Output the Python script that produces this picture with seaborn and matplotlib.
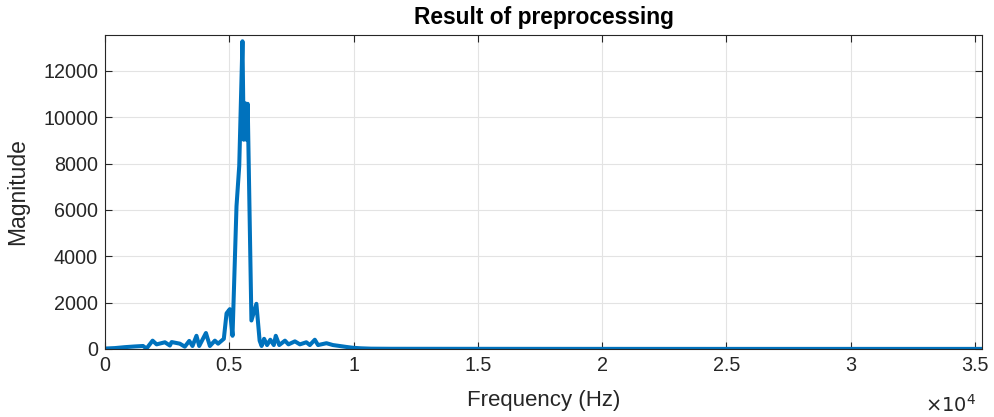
import matplotlib
matplotlib.use("Agg")
import matplotlib.pyplot as plt
import seaborn as sns
import pandas as pd

# Spectrum magnitude after preprocessing (frequency in Hz)
freq_hz = [0, 400, 800, 1200, 1530, 1670, 1915, 2075, 2410, 2610, 2680, 3010, 3210,
           3390, 3520, 3680, 3790, 4060, 4220, 4420, 4550, 4780, 4890, 5020, 5130,
           5290, 5400, 5530, 5580, 5650, 5690, 5740, 5890, 6090, 6220, 6300, 6400,
           6520, 6650, 6790, 6870, 7010, 7240, 7380, 7640, 7840, 8100, 8240, 8440,
           8570, 8910, 9170, 9440, 9700, 10000, 10300, 10700, 11500, 15000, 20000,
           25000, 30000, 35280]
magnitude = [20, 40, 80, 110, 130, 20, 360, 200, 290, 150, 300, 230, 100,
             350, 130, 570, 130, 690, 130, 360, 230, 440, 1540, 1720, 570,
             6160, 7900, 13280, 9030, 10600, 9030, 10580, 1230, 1950, 360, 130, 440,
             170, 400, 170, 570, 170, 360, 200, 330, 200, 290, 170, 400,
             170, 250, 170, 130, 90, 50, 30, 15, 10, 8, 6, 5, 5, 5]

xtick_values = [0, 5000, 10000, 15000, 20000, 25000, 30000, 35000]
xtick_labels = ["0", "0.5", "1", "1.5", "2", "2.5", "3", "3.5"]
ytick_values = [0, 2000, 4000, 6000, 8000, 10000, 12000]

df = pd.DataFrame({"Frequency": freq_hz, "Magnitude": magnitude})

sns.set_theme(style="ticks")
plt.rcParams["font.family"] = ["Liberation Sans", "DejaVu Sans"]

dark = "#262626"
fig = plt.figure(figsize=(9.94, 4.17), dpi=100)
ax = fig.add_axes([105 / 994, 1 - 349 / 417, (982 - 105) / 994, (349 - 35) / 417])

sns.lineplot(data=df, x="Frequency", y="Magnitude", ax=ax, color="#0072BD",
             linewidth=2.9, estimator=None, sort=False)

ax.set_xlim(0, 35280)
ax.set_ylim(0, 13550)
ax.set_xticks(xtick_values)
ax.set_xticklabels(xtick_labels)
ax.set_yticks(ytick_values)
ax.set_yticklabels([str(v) for v in ytick_values])

ax.grid(True, color="#e3e3e3", linewidth=0.8)
ax.set_axisbelow(True)
for side in ["top", "right", "bottom", "left"]:
    ax.spines[side].set_visible(True)
    ax.spines[side].set_color(dark)
    ax.spines[side].set_linewidth(0.8)
ax.tick_params(direction="in", length=5, width=0.8, color=dark,
               top=True, right=True, labelsize=14.2, labelcolor=dark, pad=5)

ax.set_xlabel("Frequency (Hz)", fontsize=16, color=dark)
ax.xaxis.set_label_coords(0.5, -0.165)
ax.xaxis.label.set_va("center")
ax.set_ylabel("Magnitude", fontsize=16.5, color=dark)
ax.yaxis.set_label_coords(-(105 - 18) / 877, 0.5)
ax.yaxis.label.set_va("center")
ax.set_title("Result of preprocessing", fontsize=16.4, fontweight="bold",
             color="black", pad=0, y=(349 - 18) / 314, va="center")

ax.text((976 - 105) / 877, -(405 - 349) / 314, r"$\times10^{4}$",
        transform=ax.transAxes, ha="right", va="center", fontsize=14, color=dark)

fig.savefig("out.png", dpi=100)
